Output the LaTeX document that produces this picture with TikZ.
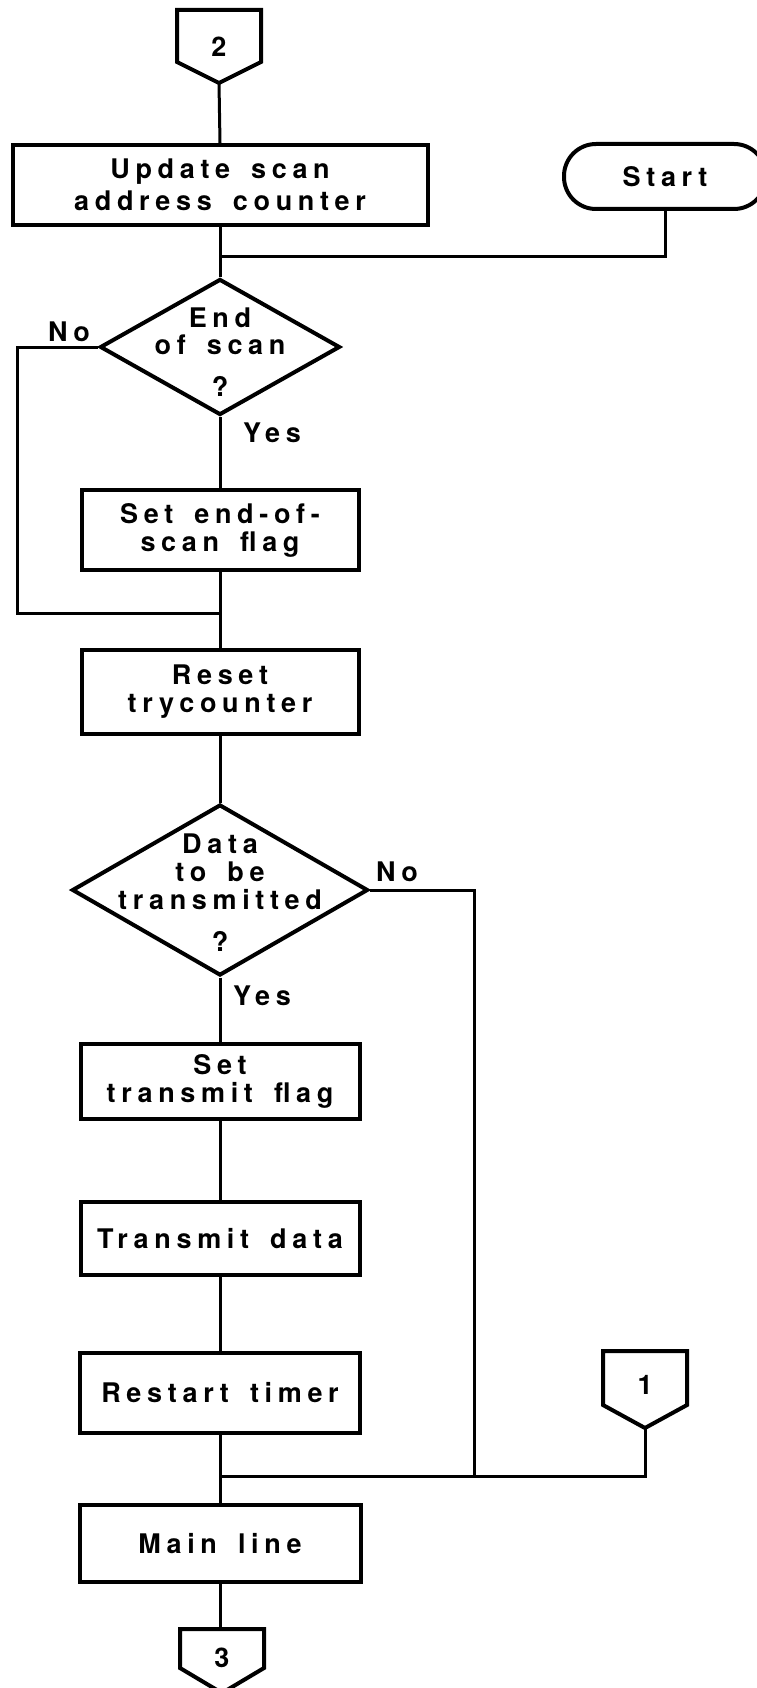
\documentclass[tikz,border=0pt]{standalone}
\usepackage{fontspec}
\setmainfont{TeX Gyre Heros}[LetterSpace=21,WordSpace=1.6]
\usetikzlibrary{shapes.geometric,calc}
\begin{document}
\begin{tikzpicture}[x=1pt,y=-1pt,
  every node/.style={font=\fontsize{27}{28}\selectfont\bfseries},
  procbox/.style={draw,line width=4pt,inner sep=0pt,align=center},
  dia/.style={draw,diamond,line width=4pt,inner sep=0pt},
  dtext/.style={align=center,inner sep=0pt},
  lbl/.style={inner sep=0pt},
  flow/.style={line width=3pt},
  offp/.style={line width=4pt,line join=miter}]
\useasboundingbox (0,0) rectangle (756,1688);

% off-page connector 2
\node[lbl] (c2) at (219,47) {2};
\draw[offp] (177,10) -- (261,10) -- (261,62) -- (219,83) coordinate (c2tip) -- (177,62) -- cycle;

\node[procbox,minimum width=415,minimum height=80,font=\fontsize{27}{32}\selectfont\bfseries] (upd) at (220,185) {Update scan\\address counter};
\node[procbox,rounded corners=32pt,minimum width=202,minimum height=65] (start) at (665,176.5) {Start};
\coordinate (j1) at (220,257);

\node[dia,minimum width=240,minimum height=136] (d1) at (220,347) {};
\node[dtext,font=\fontsize{27}{27}\selectfont\bfseries] (d1t) at (220,352) {End\\of scan\\[15pt]?};
\node[lbl] (no1) at (69,332) {No};
\node[lbl] (yes1) at (272,433) {Yes};

\node[procbox,minimum width=277,minimum height=80] (setend) at (220,530) {Set end-of-\\scan flag};
\coordinate (j2) at (220,613);
\coordinate (lc) at (17,613);
\node[procbox,minimum width=277,minimum height=84] (reset) at (220,692) {Reset\\trycounter};

\node[dia,minimum width=296,minimum height=171] (d2) at (220,890) {};
\node[dtext] (d2t) at (220,893) {Data\\to be\\transmitted\\[14pt]?};
\node[lbl] (no2) at (397,872) {No};
\node[lbl] (yes2) at (262,996) {Yes};

\node[procbox,minimum width=279,minimum height=75] (settx) at (220,1081.5) {Set\\transmit flag};
\node[procbox,minimum width=279,minimum height=73] (txd) at (220,1238.5) {Transmit data};
\node[procbox,minimum width=280,minimum height=80] (rst) at (220,1393) {Restart timer};
\coordinate (j3) at (220,1476);
\coordinate (rc) at (474,1476);
\node[procbox,minimum width=281,minimum height=77] (mainl) at (220,1543.5) {Main line};

% off-page connector 1
\node[lbl] (c1) at (645,1385) {1};
\draw[offp] (603,1351) -- (687,1351) -- (687,1405) -- (645,1428) coordinate (c1tip) -- (603,1405) -- cycle;

% off-page connector 3
\node[lbl] (c3) at (222,1658) {3};
\draw[offp] (180,1629) -- (220,1629) coordinate (c3top) -- (264,1629) -- (264,1668) -- (222,1693) -- (180,1668) -- cycle;

% flow lines
\draw[flow] (c2tip) -- (upd.north);
\draw[flow] (upd.south) -- (d1.north);
\draw[flow] (start.south) |- (j1);
\draw[flow] (d1.west) -| (lc) -- (j2);
\draw[flow] (d1.south) -- (setend.north);
\draw[flow] (setend.south) -- (reset.north);
\draw[flow] (reset.south) -- (d2.north);
\draw[flow] (d2.east) -| (rc) -- (j3);
\draw[flow] (d2.south) -- (settx.north);
\draw[flow] (settx.south) -- (txd.north);
\draw[flow] (txd.south) -- (rst.north);
\draw[flow] (rst.south) -- (mainl.north);
\draw[flow] (mainl.south) -- (c3top);
\draw[flow] (c1tip) |- (j3);
\end{tikzpicture}
\end{document}
